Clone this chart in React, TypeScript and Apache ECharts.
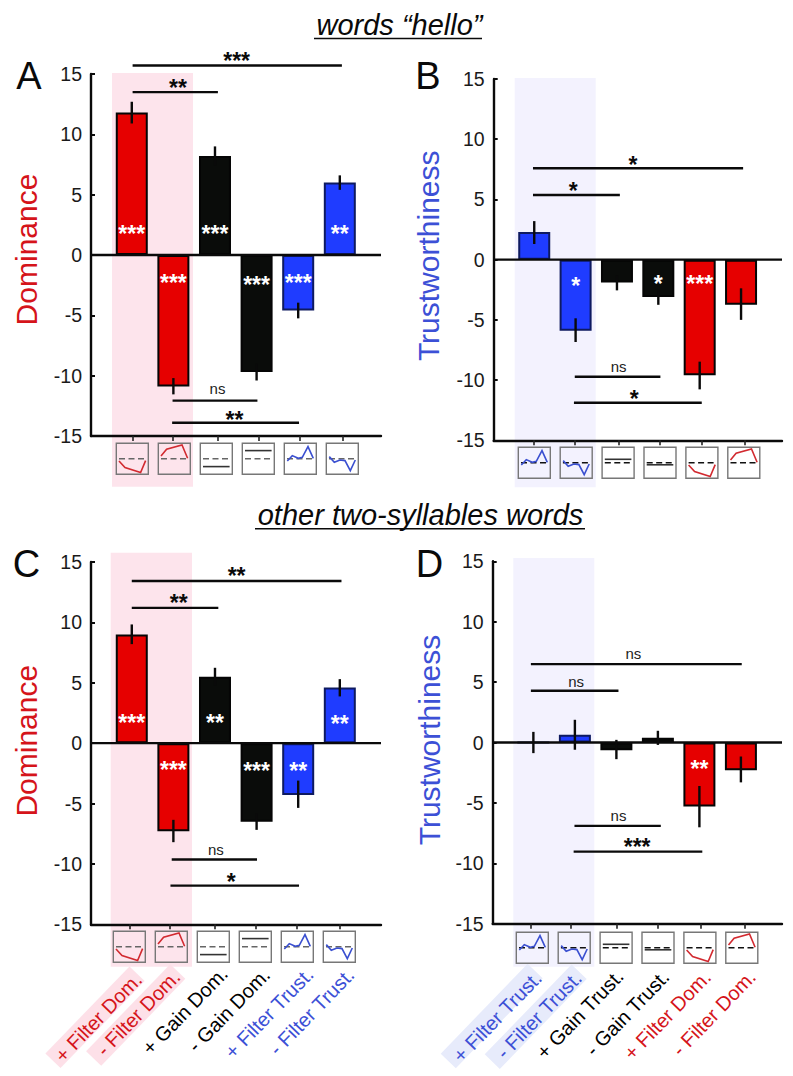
import React, { useEffect, useRef } from "react";
import * as echarts from "echarts";

const FONT = '"Liberation Sans", Arial, sans-serif';
const RED = "#e60000";
const BLACK = "#0a0c0a";
const BLUE = "#1f3cff";
const RED_TEXT = "#d5141a";
const BLUE_TEXT = "#3c50d6";
const PINK = "#fde4ec";
const LILAC = "#f3f2fe";

// ---- values ----
const domValuesA = [11.8, -10.9, 8.2, -9.7, -4.6, 6.0];
const domHighA = [12.7, -10.2, 9.0, -9.0, -3.95, 6.6];
const domLowA = [10.9, -11.55, 7.4, -10.4, -5.25, 5.4];
const domStarsA = ["***", "***", "***", "***", "***", "**"];
const domStarYA = [2.15, -1.93, 2.15, -2.07, -1.93, 2.15];

const trustValuesB = [2.3, -5.9, -1.9, -3.1, -9.6, -3.75];
const trustHighB = [3.2, -4.87, -1.3, -2.5, -8.47, -2.38];
const trustLowB = [1.3, -6.84, -2.55, -3.75, -10.77, -5.0];
const trustStarsB = ["", "*", "", "*", "***", ""];
const trustStarYB = [0, -1.75, 0, -1.6, -1.63, 0];

const domValuesC = [9.0, -7.3, 5.5, -6.5, -4.3, 4.6];
const domHighC = [9.83, -6.35, 6.24, -5.8, -3.1, 5.3];
const domLowC = [8.2, -8.2, 4.8, -7.18, -5.36, 3.87];
const domStarsC = ["***", "***", "**", "***", "**", "**"];
const domStarYC = [2.07, -1.85, 2.07, -1.88, -1.88, 1.99];

const trustValuesD = [0, 0.65, -0.65, 0.4, -5.3, -2.3];
const trustHighD = [0.88, 1.88, 0.22, 0.97, -3.6, -1.16];
const trustLowD = [-0.88, -0.6, -1.38, -0.2, -7.02, -3.3];
const trustStarsD = ["", "", "", "", "**", ""];
const trustStarYD = [0, 0, 0, 0, -1.77, 0];

// comparison lines: from, to, level, label, label x, label y
type Cmp = [number, number, number, string, number, number];
const comparisonsA: Cmp[] = [
  [0.02, 5.05, 15.7, "***", 2.52, 16.49],
  [0.02, 2.07, 13.5, "**", 1.11, 14.23],
  [0.98, 3.02, -12.07, "ns", 2.06, -11.1],
  [0.97, 4.02, -13.9, "**", 2.47, -13.23],
];
const comparisonsB: Cmp[] = [
  [-0.03, 5.05, 7.59, "*", 2.39, 8.28],
  [-0.03, 2.07, 5.37, "*", 0.945, 6.15],
  [0.98, 3.05, -9.72, "ns", 2.04, -8.86],
  [0.96, 4.05, -11.88, "*", 2.415, -11.19],
];
const comparisonsC: Cmp[] = [
  [0, 5.04, 13.43, "**", 2.52, 14.25],
  [0, 2.08, 11.2, "**", 1.13, 11.99],
  [0.96, 3.01, -9.64, "ns", 2.02, -8.78],
  [0.93, 4.02, -11.8, "*", 2.39, -11.1],
];
const comparisonsD: Cmp[] = [
  [-0.06, 5.02, 6.49, "ns", 2.41, 7.38],
  [-0.06, 2.05, 4.28, "ns", 1.03, 5.06],
  [0.99, 3.07, -6.9, "ns", 2.05, -6.02],
  [0.97, 4.07, -9.03, "***", 2.5, -8.2],
];

const ticksA = [0.03, 0.98, 2.06, 3.04, 4.04, 5.06];
const ticksB = [0, 0.97, 2.05, 3.04, 4.05, 5.09];
const ticksC = [-0.05, 0.91, 1.99, 2.98, 3.97, 5.0];
const ticksD = [-0.06, 0.91, 2.0, 3.0, 4.04, 5.09];

const yTicks = [-15, -10, -5, 0, 5, 10, 15];

const domLabels = ["+ Filter Dom.", "- Filter Dom.", "+ Gain Dom.", "- Gain Dom.", "+ Filter Trust.", "- Filter Trust."];
const trustLabels = ["+ Filter Trust.", "- Filter Trust.", "+ Gain Trust.", "- Gain Trust.", "+ Filter Dom.", "- Filter Dom."];

// thumbnail curves
const curveRedDown = [[2.7, 17.7], [8.7, 24.3], [24.3, 29.3], [29.3, 17.3]];
const curveRedUp = [[2.7, 12.7], [8.3, 6], [23.7, 1.7], [29.3, 15]];
const curveBlueUp = [[3, 17.7], [8, 12.3], [14, 15], [18, 14], [23.7, 3.3], [29, 15]];
const curveBlueDown = [[3, 13.3], [8, 19], [13.7, 16.7], [18.7, 17.3], [24, 27.3], [29, 16.7]];
const gainDomUp = [[2.7, 7.3], [29.3, 7.3]];
const gainDomDown = [[2.7, 23.3], [29.3, 23.3]];
const gainTrustUp = [[2.7, 12], [29.3, 12]];
const gainTrustDown = [[2.7, 17.5], [29.3, 17.5]];

const RED_THUMB = "#d22a30";
const BLUE_THUMB = "#3a4fd0";
const DARK_THUMB = "#333";

const domThumbs = [
  [curveRedDown, RED_THUMB], [curveRedUp, RED_THUMB], [gainDomDown, DARK_THUMB],
  [gainDomUp, DARK_THUMB], [curveBlueUp, BLUE_THUMB], [curveBlueDown, BLUE_THUMB],
] as [number[][], string][];
const trustThumbs = [
  [curveBlueUp, BLUE_THUMB], [curveBlueDown, BLUE_THUMB], [gainTrustUp, DARK_THUMB],
  [gainTrustDown, DARK_THUMB], [curveRedDown, RED_THUMB], [curveRedUp, RED_THUMB],
] as [number[][], string][];

const domColors = [RED, RED, BLACK, BLACK, BLUE, BLUE];
const trustColors = [BLUE, BLUE, BLACK, BLACK, RED, RED];

// ---- layout of the four panels ----
const X_MIN = -0.98;
const X_MAX = 5.99;

const panels = [
  {
    letter: "A", letterX: 29, letterY: 76, axisX: 91, right: 381, top: 74, bottom: 436,
    values: domValuesA, high: domHighA, low: domLowA, stars: domStarsA, starY: domStarYA,
    comparisons: comparisonsA, ticks: ticksA, colors: domColors, thumbs: domThumbs,
    thumbX: 116.3, thumbY: 443.3, thumbStep: 42, dash: "#666",
    name: "Dominance", nameColor: RED_TEXT, nameSize: 30, nameX: 26.7, nameY: 249.5,
    band: [112, 73, 81, 413.7], bandColor: PINK,
  },
  {
    letter: "B", letterX: 428, letterY: 76, axisX: 493.7, right: 782, top: 79, bottom: 440.3,
    values: trustValuesB, high: trustHighB, low: trustLowB, stars: trustStarsB, starY: trustStarYB,
    comparisons: comparisonsB, ticks: ticksB, colors: trustColors, thumbs: trustThumbs,
    thumbX: 518.3, thumbY: 447.3, thumbStep: 41.9, dash: "#111",
    name: "Trustworthiness", nameColor: BLUE_TEXT, nameSize: 30, nameX: 428, nameY: 255.8,
    band: [514.7, 78, 81, 409.3], bandColor: LILAC,
  },
  {
    letter: "C", letterX: 26.5, letterY: 564, axisX: 91, right: 381, top: 562, bottom: 924.3,
    values: domValuesC, high: domHighC, low: domLowC, stars: domStarsC, starY: domStarYC,
    comparisons: comparisonsC, ticks: ticksC, colors: domColors, thumbs: domThumbs,
    thumbX: 113.3, thumbY: 931.3, thumbStep: 42, dash: "#666",
    name: "Dominance", nameColor: RED_TEXT, nameSize: 30, nameX: 26, nameY: 740.7,
    band: [110.7, 552.7, 81.3, 414], bandColor: PINK,
  },
  {
    letter: "D", letterX: 429.5, letterY: 564, axisX: 492.7, right: 782, top: 561.3, bottom: 923.7,
    values: trustValuesD, high: trustHighD, low: trustLowD, stars: trustStarsD, starY: trustStarYD,
    comparisons: comparisonsD, ticks: ticksD, colors: trustColors, thumbs: trustThumbs,
    thumbX: 516.3, thumbY: 932.3, thumbStep: 41.9, dash: "#111",
    name: "Trustworthiness", nameColor: BLUE_TEXT, nameSize: 30, nameX: 429, nameY: 740,
    band: [513.3, 558, 81, 408.7], bandColor: LILAC,
  },
];

const axisLabelRows = [
  { labels: domLabels, x: [98.3, 138.3, 185, 229, 269, 311.7], y: [1017.5, 1013, 1010.7, 1010, 1013, 1011.7],
    colors: [RED_TEXT, RED_TEXT, "#000", "#000", BLUE_TEXT, BLUE_TEXT] },
  { labels: trustLabels, x: [497.3, 539, 580, 627.3, 667.3, 714], y: [1016.7, 1015, 1014, 1013, 1015, 1013],
    colors: [BLUE_TEXT, BLUE_TEXT, "#000", "#000", RED_TEXT, RED_TEXT] },
];
const labelBands = [
  { x: 95, y: 1017.3, w: 121, color: "#fde0e8" },
  { x: 135.7, y: 1015, w: 121, color: "#fde0e8" },
  { x: 491.7, y: 1016, w: 125, color: "#e7ebfb" },
  { x: 535.7, y: 1016.7, w: 125, color: "#e7ebfb" },
];

const titles = [
  { text: "words “hello”", x: 399.5, y: 24.5, x1: 314, x2: 482, ly: 38.5 },
  { text: "other two-syllables words", x: 420.5, y: 515, x1: 255, x2: 585, ly: 528.7 },
];

const STAR_DY = 5;
const LINE_W = 2.4;

function buildOption() {
  const grid: any[] = [];
  const xAxis: any[] = [];
  const yAxis: any[] = [];
  const series: any[] = [];
  const graphic: any[] = [];

  panels.forEach((p, i) => {
    grid.push({ left: p.axisX, width: p.right - p.axisX, top: p.top, height: p.bottom - p.top });
    xAxis.push({
      gridIndex: i, type: "value", min: X_MIN, max: X_MAX, position: "bottom",
      axisLine: { onZero: false, lineStyle: { color: "#0a0a0a", width: LINE_W } },
      axisTick: { show: true, inside: false, length: 5, customValues: p.ticks, lineStyle: { color: "#222", width: 1.6 } },
      axisLabel: { show: false }, splitLine: { show: false },
    });
    yAxis.push({
      gridIndex: i, type: "value", min: yTicks[0], max: yTicks[yTicks.length - 1], interval: 5,
      axisLine: { show: true, onZero: false, lineStyle: { color: "#0a0a0a", width: LINE_W } },
      axisTick: { show: true, inside: true, length: 4, lineStyle: { color: "#0a0a0a", width: 2 } },
      axisLabel: { color: "#1a1a1a", fontFamily: FONT, fontSize: 19.5, margin: 9 },
      splitLine: { show: false },
    });

    series.push({
      type: "bar", xAxisIndex: i, yAxisIndex: i, barWidth: 32, z: 3,
      data: p.values.map((v, k) => ({
        value: [k, v],
        itemStyle: {
          color: p.colors[k],
          borderColor: p.colors[k] === BLUE ? "#0e1a60" : "#050505",
          borderWidth: 2,
        },
      })),
    });
    series.push({
      type: "line", xAxisIndex: i, yAxisIndex: i, showSymbol: false, z: 4,
      lineStyle: { color: "#0a0a0a", width: LINE_W },
      data: [[X_MIN, 0], [X_MAX, 0]],
    });
    series.push({
      type: "custom", xAxisIndex: i, yAxisIndex: i, z: 5,
      data: p.values.map((_, k) => [k, p.low[k], p.high[k]]),
      renderItem: (_: any, api: any) => {
        const a = api.coord([api.value(0), api.value(1)]);
        const b = api.coord([api.value(0), api.value(2)]);
        return { type: "line", shape: { x1: a[0], y1: a[1], x2: b[0], y2: b[1] }, style: { stroke: "#0a0a0a", lineWidth: LINE_W } };
      },
    });
    series.push({
      type: "custom", xAxisIndex: i, yAxisIndex: i, z: 6,
      data: p.values.map((_, k) => [k, p.starY[k]]),
      renderItem: (params: any, api: any) => {
        const s = p.stars[params.dataIndex];
        if (!s) return null;
        const a = api.coord([api.value(0), api.value(1)]);
        return {
          type: "text", x: a[0], y: a[1] + STAR_DY,
          style: { text: s, fill: "#fff", font: `bold 23px ${FONT}`, align: "center", verticalAlign: "middle" },
        };
      },
    });
    series.push({
      type: "custom", xAxisIndex: i, yAxisIndex: i, z: 6,
      data: p.comparisons.map((c) => [c[0], c[1], c[2], c[4], c[5]]),
      renderItem: (params: any, api: any) => {
        const label = p.comparisons[params.dataIndex][3];
        const a = api.coord([api.value(0), api.value(2)]);
        const b = api.coord([api.value(1), api.value(2)]);
        const t = api.coord([api.value(3), api.value(4)]);
        const isNs = label === "ns";
        return {
          type: "group",
          children: [
            { type: "line", shape: { x1: a[0], y1: a[1], x2: b[0], y2: b[1] }, style: { stroke: "#0a0a0a", lineWidth: LINE_W } },
            {
              type: "text", x: t[0], y: t[1] + (isNs ? 0 : STAR_DY),
              style: {
                text: label, fill: isNs ? "#222" : "#0a0a0a",
                font: isNs ? `15px ${FONT}` : `bold 23px ${FONT}`,
                align: "center", verticalAlign: "middle",
              },
            },
          ],
        };
      },
    });

    // shaded band behind the first two conditions
    graphic.push({
      type: "rect", z: -10, silent: true,
      shape: { x: p.band[0], y: p.band[1], width: p.band[2], height: p.band[3] },
      style: { fill: p.bandColor },
    });
    // panel letter and axis name
    graphic.push({
      type: "text", x: p.letterX, y: p.letterY, z: 10,
      style: { text: p.letter, fill: "#0a0a0a", font: `38px ${FONT}`, align: "center", verticalAlign: "middle" },
    });
    graphic.push({
      type: "text", x: p.nameX, y: p.nameY, rotation: Math.PI / 2, z: 10,
      style: { text: p.name, fill: p.nameColor, font: `${p.nameSize}px ${FONT}`, align: "center", verticalAlign: "middle" },
    });
    // thumbnails
    p.thumbs.forEach(([curve, color], k) => {
      graphic.push({
        type: "group", x: p.thumbX + k * p.thumbStep, y: p.thumbY, z: 5,
        children: [
          { type: "rect", shape: { x: 0, y: 0, width: 32, height: 31 }, style: { fill: "transparent", stroke: "#777", lineWidth: 1.4 } },
          { type: "line", shape: { x1: 2.7, y1: 15.5, x2: 29.3, y2: 15.5 }, style: { stroke: p.dash, lineWidth: 1.5, lineDash: [6, 3.5] } },
          { type: "polyline", shape: { points: curve }, style: { stroke: color, lineWidth: 1.6, fill: "none" } },
        ],
      });
    });
  });

  labelBands.forEach((b) => {
    graphic.push({
      type: "rect", x: b.x, y: b.y, rotation: (46 * Math.PI) / 180, z: -9, silent: true,
      shape: { x: -b.w / 2, y: -10.5, width: b.w, height: 21 },
      style: { fill: b.color },
    });
  });
  axisLabelRows.forEach((r) => {
    r.labels.forEach((t, k) => {
      graphic.push({
        type: "text", x: r.x[k], y: r.y[k], rotation: (46 * Math.PI) / 180, z: 10,
        style: { text: t, fill: r.colors[k], font: `20px ${FONT}`, align: "center", verticalAlign: "middle" },
      });
    });
  });
  titles.forEach((t) => {
    graphic.push({
      type: "text", x: t.x, y: t.y, z: 10,
      style: { text: t.text, fill: "#0a0a0a", font: `italic 29px ${FONT}`, align: "center", verticalAlign: "middle" },
    });
    graphic.push({
      type: "line", z: 10,
      shape: { x1: t.x1, y1: t.ly, x2: t.x2, y2: t.ly },
      style: { stroke: "#0a0a0a", lineWidth: 1.6 },
    });
  });

  return { animation: false, backgroundColor: "#fff", grid, xAxis, yAxis, series, graphic };
}

export default function App() {
  const ref = useRef<HTMLDivElement>(null);
  useEffect(() => {
    const chart = echarts.init(ref.current!, undefined, { renderer: "svg" });
    chart.setOption(buildOption() as any);
    return () => chart.dispose();
  }, []);
  return <div ref={ref} style={{ position: "absolute", left: 0, top: 0, width: 793, height: 1076 }} />;
}
